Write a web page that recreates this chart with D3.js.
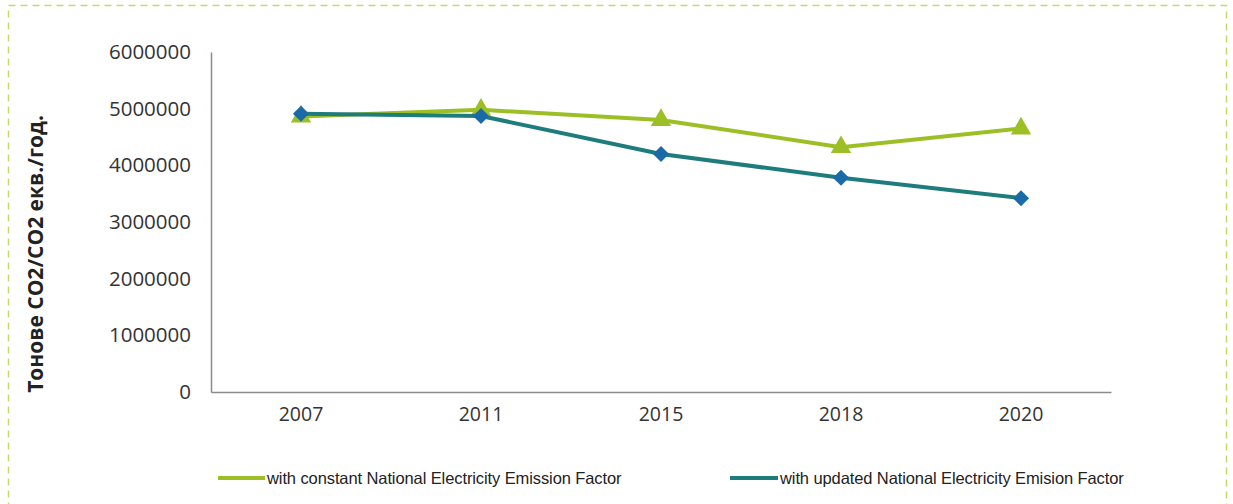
<!DOCTYPE html>
<html>
<head>
<meta charset="utf-8">
<script src="https://cdn.jsdelivr.net/npm/d3@7"></script>
<style>
  html, body { margin: 0; padding: 0; background: #fff; }
  svg { display: block; }
</style>
</head>
<body>
<svg id="chart" width="1233" height="504"></svg>
<script>
// Emissions, tonnes CO2/CO2-eq per year
const years = ["2007", "2011", "2015", "2018", "2020"];
const constantFactor = [4860000, 4980000, 4800000, 4320000, 4650000];
const updatedFactor = [4910000, 4870000, 4200000, 3780000, 3420000];
const yTicks = [0, 1000000, 2000000, 3000000, 4000000, 5000000, 6000000];
const seriesNames = [
  "with constant National Electricity Emission Factor",
  "with updated National Electricity Emision Factor"
];
const yTitle = "Тонове CO2/CO2 екв./год.";

const svg = d3.select("#chart");

// dashed outer frame
svg.append("rect")
  .attr("x", 8.5).attr("y", 5.5)
  .attr("width", 1218).attr("height", 510)
  .attr("fill", "none")
  .attr("stroke", "#c8d96a")
  .attr("stroke-width", 1.5)
  .attr("stroke-dasharray", "7,5");

const plot = { left: 211, right: 1111, top: 52, bottom: 392 };

const x = d3.scaleBand().domain(years).range([plot.left, plot.right]);
const y = d3.scaleLinear().domain([0, 6000000]).range([plot.bottom, plot.top]);

// y axis
const yAxis = svg.append("g")
  .attr("transform", `translate(${plot.left},0)`)
  .call(d3.axisLeft(y).tickValues(yTicks).tickFormat(d3.format("d")).tickSize(0).tickPadding(20));
yAxis.select(".domain").attr("stroke", "#8c8c8c").attr("stroke-width", 1.5);
yAxis.selectAll("text")
  .attr("font-family", "'Open Sans', sans-serif")
  .attr("font-size", 20.5)
  .attr("fill", "#333");

// x axis
const xAxis = svg.append("g")
  .attr("transform", `translate(0,${plot.bottom})`)
  .call(d3.axisBottom(x).tickSize(0).tickPadding(15));
xAxis.select(".domain").attr("stroke", "#8c8c8c").attr("stroke-width", 1.5);
xAxis.selectAll("text")
  .attr("font-family", "'Open Sans', sans-serif")
  .attr("font-size", 19.5)
  .attr("fill", "#333");

// y axis title
svg.append("text")
  .attr("transform", `translate(43,254) rotate(-90)`)
  .attr("text-anchor", "middle")
  .attr("font-family", "'Open Sans', sans-serif")
  .attr("font-weight", "bold")
  .attr("font-size", 21)
  .attr("fill", "#222")
  .text(yTitle);

const cx = d => x(d) + x.bandwidth() / 2;

const green = "#9cbf25";
const teal = "#1f7c7d";
const blue = "#1b6aa8";

const line = d3.line().x(d => cx(d.year)).y(d => y(d.v));

const dataC = years.map((yr, i) => ({ year: yr, v: constantFactor[i] }));
const dataU = years.map((yr, i) => ({ year: yr, v: updatedFactor[i] }));

// constant-factor series
svg.append("path").datum(dataC)
  .attr("d", line).attr("fill", "none")
  .attr("stroke", green).attr("stroke-width", 4);

svg.selectAll(".tri").data(dataC).enter().append("path")
  .attr("class", "tri")
  .attr("transform", d => `translate(${cx(d.year)},${y(d.v)})`)
  .attr("d", d3.symbol().type(d3.symbolTriangle).size(180))
  .attr("fill", green);

// updated-factor series
svg.append("path").datum(dataU)
  .attr("d", line).attr("fill", "none")
  .attr("stroke", teal).attr("stroke-width", 4);

svg.selectAll(".dia").data(dataU).enter().append("path")
  .attr("class", "dia")
  .attr("transform", d => `translate(${cx(d.year)},${y(d.v)}) rotate(45)`)
  .attr("d", d3.symbol().type(d3.symbolSquare).size(130))
  .attr("fill", blue);

// legend
const legend = [
  { name: seriesNames[0], color: green, x0: 218, x1: 265 },
  { name: seriesNames[1], color: teal, x0: 730, x1: 778 }
];
const lg = svg.append("g");
legend.forEach(l => {
  lg.append("line")
    .attr("x1", l.x0).attr("x2", l.x1)
    .attr("y1", 478).attr("y2", 478)
    .attr("stroke", l.color).attr("stroke-width", 4);
  lg.append("text")
    .attr("x", l.x1 + 2).attr("y", 484)
    .attr("font-family", "'Liberation Sans', Arial, sans-serif")
    .attr("font-size", 16.5)
    .attr("letter-spacing", -0.1)
    .attr("fill", "#222")
    .text(l.name);
});
</script>
</body>
</html>
